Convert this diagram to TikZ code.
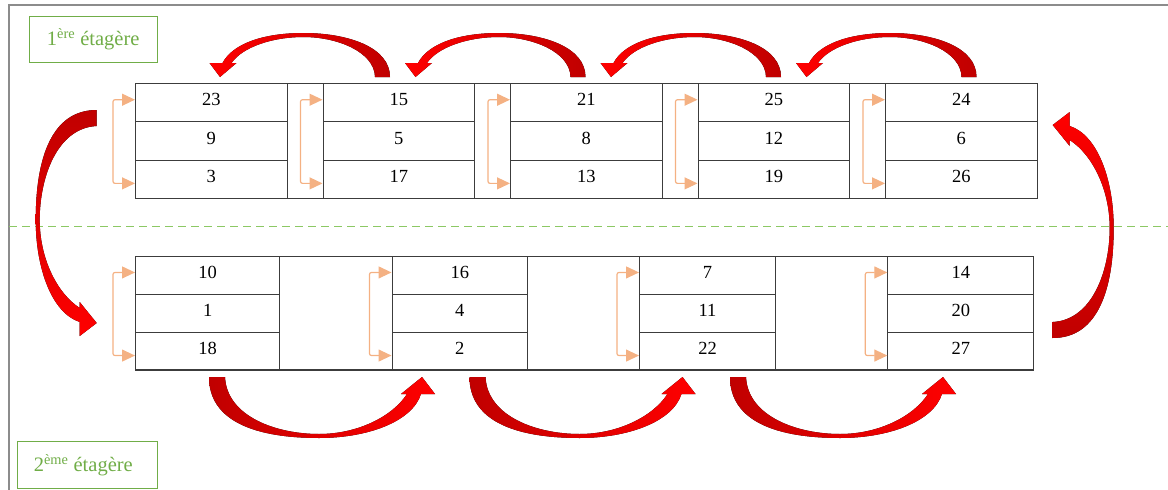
\documentclass[tikz,border=0pt]{standalone}
\usepackage{fontspec}
\setmainfont{Liberation Serif}
\usetikzlibrary{arrows.meta}

\definecolor{shelfgreen}{HTML}{70AD47}
\definecolor{dashgreen}{HTML}{8CC864}
\definecolor{bracketorange}{HTML}{F4B183}
\definecolor{arrowdark}{HTML}{C00000}
\definecolor{arrowbright}{HTML}{FF0000}
\definecolor{framegray}{HTML}{8C8C8C}
\definecolor{gridgray}{HTML}{3C3C3C}

% Large curved block arrow: base centred at the origin, tip at (205,0),
% bulging towards +y (local frame, y pointing down on the page).
\newcommand{\bigShelfArrow}[2]{%
  \begin{scope}[#1]
    \fill[#2] (-8,0) .. controls (-8,45) and (40,61) .. (102,61)
      .. controls (150,61) and (195,45) .. (204,17)
      -- (218,17) -- (205,0) -- (184,17) -- (190,17)
      .. controls (175,40) and (140,57) .. (102,57)
      .. controls (60,57) and (10,40) .. (8,0) -- cycle;
  \end{scope}}

% Smaller curved block arrow used between the upper shelves.
\newcommand{\smallShelfArrow}[2]{%
  \begin{scope}[#1]
    \fill[#2] (-7.5,0) .. controls (-7.5,30) and (35,44) .. (79,44)
      .. controls (120,44) and (150,33) .. (160,14)
      -- (173,14) -- (162.5,0) -- (146,14) -- (151,14)
      .. controls (140,30) and (110,40) .. (79,40)
      .. controls (45,40) and (8,25) .. (7.5,0) -- cycle;
  \end{scope}}

\begin{document}
\begin{tikzpicture}[x=1pt, y=-1pt,
  cell/.style={draw=gridgray, line width=1.1pt, inner sep=0pt,
    text height=16pt, text depth=10pt, anchor=north west,
    font=\fontsize{18.5}{20}\selectfont},
  gapcol/.style={draw=gridgray, line width=1.1pt, inner sep=0pt, anchor=north west},
  shelflabel/.style={draw=shelfgreen, line width=0.9pt, text=shelfgreen,
    inner sep=0pt, font=\fontsize{20.5}{22}\selectfont},
  bracket/.style={draw=bracketorange, line width=1.2pt, rounded corners=2pt,
    {Triangle[length=13pt,width=12pt]}-{Triangle[length=13pt,width=12pt]}},
]
\useasboundingbox (0,0) rectangle (1168,490);

% frame and shelf separator
\draw[framegray, line width=2pt] (9,490) -- (9,5) -- (1168,5);
\draw[dashgreen, line width=1pt, dash pattern=on 8pt off 5pt] (9,226) -- (1168,226);

% shelf labels
\node[shelflabel, minimum width=128pt, minimum height=46pt] (lab1) at (93.2,39)
  {1\textsuperscript{ère} étagère};
\node[shelflabel, minimum width=140pt, minimum height=46.6pt] (lab2) at (87.3,465)
  {2\textsuperscript{ème} étagère\hspace*{8pt}};

% upper shelf: spacer columns
\foreach \x [count=\i] in {286.5, 474, 661.5, 849}
  \node[gapcol, minimum width=36pt, minimum height=115pt] (ug\i) at (\x,83) {};

% upper shelf: boxes
\foreach \x/\a/\b/\c [count=\i] in {135/23/9/3, 322.5/15/5/17, 510/21/8/13,
                                    697.5/25/12/19, 885/24/6/26} {
  \node[cell, minimum width=151.5pt, minimum height=38.33pt] (up\i-1) at (\x,83) {\a};
  \node[cell, minimum width=151.5pt, minimum height=38.33pt] (up\i-2) at (\x,121.33) {\b};
  \node[cell, minimum width=151.5pt, minimum height=38.33pt] (up\i-3) at (\x,159.67) {\c};
  \draw[bracket] ([yshift=3pt]up\i-1.west) -- ++(-22,0) |- ([yshift=-4pt]up\i-3.west);
}

% lower shelf: spacer columns
\foreach \x/\w [count=\i] in {279.3/112.2, 527/112, 775/112.3}
  \node[gapcol, minimum width=\w pt, minimum height=113.4pt] (lg\i) at (\x,256) {};

% lower shelf: boxes
\foreach \x/\w/\a/\b/\c [count=\i] in {135/144.3/10/1/18, 391.5/135.5/16/4/2,
                                       639/136/7/11/22, 887.3/146/14/20/27} {
  \node[cell, minimum width=\w pt, minimum height=37.8pt] (lo\i-1) at (\x,256) {\a};
  \node[cell, minimum width=\w pt, minimum height=37.8pt] (lo\i-2) at (\x,293.8) {\b};
  \node[cell, minimum width=\w pt, minimum height=37.8pt] (lo\i-3) at (\x,331.6) {\c};
  \draw[bracket] ([yshift=3pt]lo\i-1.west) -- ++(-22,0) |- ([yshift=-4.5pt]lo\i-3.west);
}

% moves along the upper shelf (right to left)
\foreach \bx in {382.5, 578, 773.5, 969}
  \smallShelfArrow{shift={(\bx,77)}, rotate=180}{left color=arrowbright, right color=arrowdark};

% moves along the lower shelf (left to right)
\foreach \bx in {217, 477.5, 738}
  \bigShelfArrow{shift={(\bx,377)}}{left color=arrowdark, right color=arrowbright};

% transfers between the shelves
\bigShelfArrow{shift={(96.7,118)}, rotate=-90}{top color=arrowdark, bottom color=arrowbright}
\bigShelfArrow{shift={(1052.7,330)}, rotate=90}{top color=arrowbright, bottom color=arrowdark}
\end{tikzpicture}
\end{document}
